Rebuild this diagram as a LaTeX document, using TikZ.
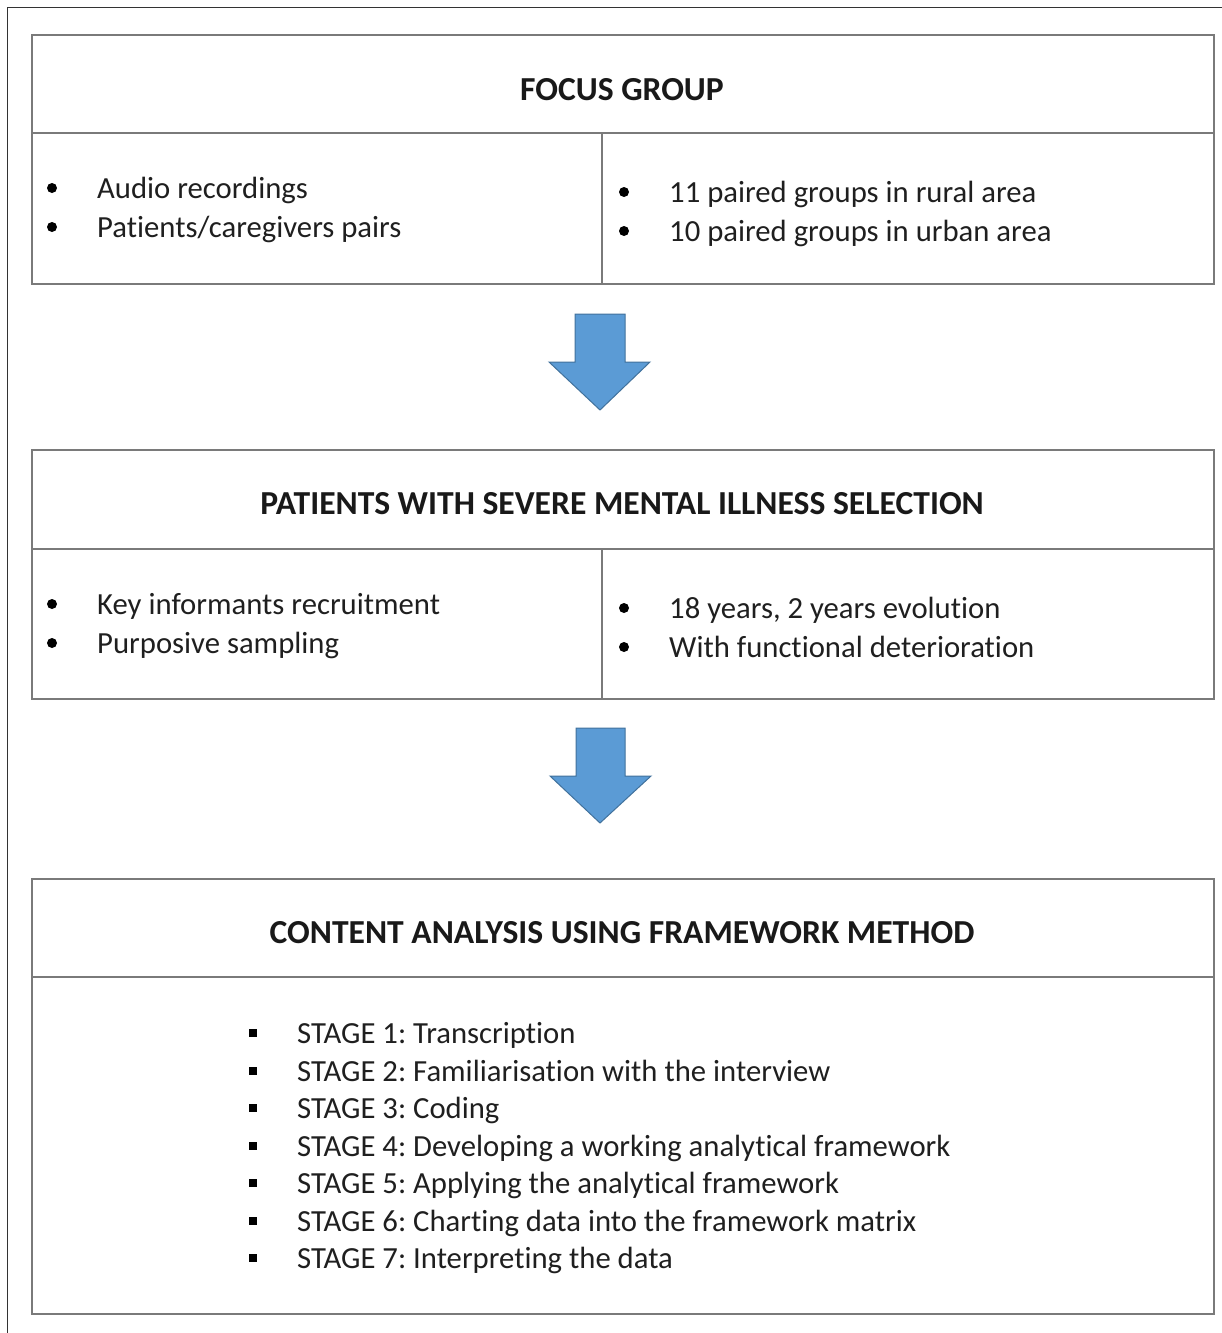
\documentclass[tikz,border=0pt]{standalone}
\usepackage{fontspec}
\setmainfont[Ligatures=NoCommon]{Carlito}
\frenchspacing
\definecolor{boxline}{HTML}{7A7A7A}
\definecolor{frameline}{HTML}{333333}
\definecolor{arrowfill}{HTML}{5B9BD5}
\definecolor{arrowline}{HTML}{41719C}
\tikzset{
  panel/.style={draw=boxline, line width=1.8pt},
  divider/.style={draw=boxline, line width=1.6pt},
  title/.style={inner sep=0pt, anchor=base, font=\fontsize{33.6}{40}\selectfont\bfseries, text=black!90},
  item/.style={inner sep=0pt, anchor=base west, font=\fontsize{30.7}{37}\selectfont, text=black!88},
  dot/.style={circle, fill=black, inner sep=0pt, minimum size=10pt},
  sq/.style={rectangle, fill=black, inner sep=0pt, minimum size=8pt},
  blockarrow/.style={fill=arrowfill, draw=arrowline, line width=1pt, line join=miter}
}
\begin{document}
\begin{tikzpicture}[x=1pt,y=-1pt]
\useasboundingbox (0,0) rectangle (1222,1333);
% partial outer frame
\draw[frameline, line width=1.5pt] (7.5,1333) -- (7.5,7.5) -- (1222,7.5);

% ---------- Box 1 ----------
\node[panel, minimum width=1182pt, minimum height=249pt, inner sep=0pt, anchor=north west] (box1) at (31,34) {};
\coordinate (b1l) at (31,133);
\coordinate (b1r) at (1213,133);
\draw[divider] (b1l) -- (b1r);
\coordinate (b1m) at (602,133);
\coordinate (b1mb) at (602,283);
\draw[divider] (b1m) -- (b1mb);
\node[title] (t1) at (622,100) {FOCUS GROUP};
\node[dot] (d11) at (52,188) {};
\node[item] (i11) at (97,198) {Audio recordings};
\node[dot] (d12) at (52,227) {};
\node[item] (i12) at (97,237) {Patients/caregivers pairs};
\node[dot] (d13) at (624,192) {};
\node[item] (i13) at (669,202) {11 paired groups in rural area};
\node[dot] (d14) at (624,231) {};
\node[item] (i14) at (669,241) {10 paired groups in urban area};

% ---------- Arrow 1 ----------
\draw[blockarrow] (575,314) -- (625,314) -- (625,362) -- (650,362) -- (600,410) -- (549,362) -- (575,362) -- cycle;

% ---------- Box 2 ----------
\node[panel, minimum width=1182pt, minimum height=249pt, inner sep=0pt, anchor=north west] (box2) at (31,449) {};
\coordinate (b2l) at (31,549);
\coordinate (b2r) at (1213,549);
\draw[divider] (b2l) -- (b2r);
\coordinate (b2m) at (602,549);
\coordinate (b2mb) at (602,698);
\draw[divider] (b2m) -- (b2mb);
\node[title] (t2) at (622,514) {PATIENTS WITH SEVERE MENTAL ILLNESS SELECTION};
\node[dot] (d21) at (52,604) {};
\node[item] (i21) at (97,614) {Key informants recruitment};
\node[dot] (d22) at (52,643) {};
\node[item] (i22) at (97,653) {Purposive sampling};
\node[dot] (d23) at (624,608) {};
\node[item] (i23) at (669,618) {18 years, 2 years evolution};
\node[dot] (d24) at (624,647) {};
\node[item] (i24) at (669,657) {With functional deterioration};

% ---------- Arrow 2 ----------
\draw[blockarrow] (576,728) -- (625,728) -- (625,776) -- (651,776) -- (600,823) -- (550,776) -- (576,776) -- cycle;

% ---------- Box 3 ----------
\node[panel, minimum width=1182pt, minimum height=435pt, inner sep=0pt, anchor=north west] (box3) at (31,878) {};
\coordinate (b3l) at (31,977);
\coordinate (b3r) at (1213,977);
\draw[divider] (b3l) -- (b3r);
\node[title] (t3) at (622,943) {CONTENT ANALYSIS USING FRAMEWORK METHOD};
\foreach \n/\yy/\txt in {1/1033/{STAGE 1: Transcription},
  2/1071/{STAGE 2: Familiarisation with the interview},
  3/1108/{STAGE 3: Coding},
  4/1146/{STAGE 4: Developing a working analytical framework},
  5/1183/{STAGE 5: Applying the analytical framework},
  6/1221/{STAGE 6: Charting data into the framework matrix},
  7/1258/{STAGE 7: Interpreting the data}} {
  \node[sq] (s\n) at (253,\yy) {};
  \node[item] (st\n) at (297,\yy+10) {\txt};
}
\end{tikzpicture}
\end{document}
